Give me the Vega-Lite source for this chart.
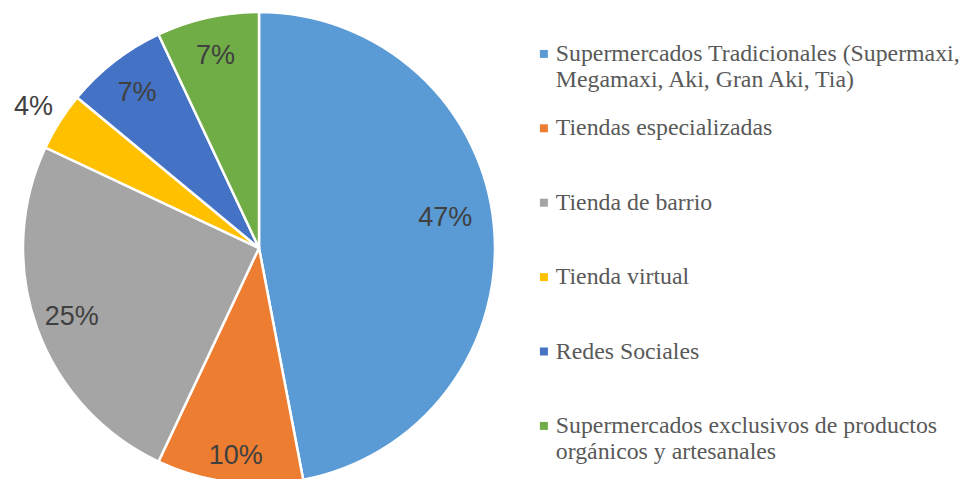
{
  "$schema": "https://vega.github.io/schema/vega-lite/v6.json",
  "width": 965,
  "height": 479,
  "padding": 0,
  "autosize": "none",
  "background": "white",
  "data": {
    "values": [
      {"idx": 1, "canal": "Supermercados Tradicionales (Supermaxi, Megamaxi, Aki, Gran Aki, Tia)", "pct": 47, "label": "47%"},
      {"idx": 2, "canal": "Tiendas especializadas", "pct": 10, "label": "10%"},
      {"idx": 3, "canal": "Tienda de barrio", "pct": 25, "label": "25%"},
      {"idx": 4, "canal": "Tienda virtual", "pct": 4, "label": "4%"},
      {"idx": 5, "canal": "Redes Sociales", "pct": 7, "label": "7%"},
      {"idx": 6, "canal": "Supermercados exclusivos de productos orgánicos y artesanales", "pct": 7, "label": "7%"}
    ]
  },
  "encoding": {
    "theta": {"field": "pct", "type": "quantitative", "stack": true},
    "order": {"field": "idx", "type": "quantitative"}
  },
  "layer": [
    {
      "mark": {"type": "arc", "x": 259, "y": 248, "outerRadius": 236, "stroke": "white", "strokeWidth": 2.5},
      "encoding": {
        "color": {
          "field": "canal",
          "type": "nominal",
          "scale": {
            "domain": [
              "Supermercados Tradicionales (Supermaxi, Megamaxi, Aki, Gran Aki, Tia)",
              "Tiendas especializadas",
              "Tienda de barrio",
              "Tienda virtual",
              "Redes Sociales",
              "Supermercados exclusivos de productos orgánicos y artesanales"
            ],
            "range": ["#5B9BD5", "#ED7D31", "#A5A5A5", "#FFC000", "#4472C4", "#70AD47"]
          },
          "legend": {
            "orient": "none",
            "legendX": 532,
            "legendY": 42,
            "padding": 0,
            "title": null,
            "direction": "vertical",
            "columns": 1,
            "gridAlign": "all",
            "rowPadding": 23.4,
            "symbolType": "square",
            "symbolSize": 64,
            "symbolStrokeWidth": 0,
            "labelFont": "Times New Roman",
            "labelFontSize": 23.8,
            "labelColor": "#595959",
            "labelLimit": 600,
            "labelOffset": 0,
            "labelExpr": "datum.label == 'Supermercados Tradicionales (Supermaxi, Megamaxi, Aki, Gran Aki, Tia)' ? ['Supermercados Tradicionales (Supermaxi,', 'Megamaxi, Aki, Gran Aki, Tia)'] : datum.label == 'Supermercados exclusivos de productos orgánicos y artesanales' ? ['Supermercados exclusivos de productos', 'orgánicos y artesanales'] : datum.label"
          }
        }
      }
    },
    {
      "mark": {"type": "text", "x": 259, "y": 250, "radius": 199, "font": "Liberation Sans", "fontSize": 27, "fill": "#404040"},
      "encoding": {
        "text": {"field": "label"},
        "opacity": {"condition": {"test": "datum.idx != 1 && datum.idx != 2 && datum.idx != 4", "value": 1}, "value": 0}
      }
    },
    {
      "mark": {"type": "text", "x": 257, "y": 236, "radius": 189, "font": "Liberation Sans", "fontSize": 27, "fill": "#404040"},
      "encoding": {
        "text": {"field": "label"},
        "opacity": {"condition": {"test": "datum.idx == 1", "value": 1}, "value": 0}
      }
    },
    {
      "mark": {"type": "text", "x": 262, "y": 248, "radius": 210, "font": "Liberation Sans", "fontSize": 27, "fill": "#404040"},
      "encoding": {
        "text": {"field": "label"},
        "opacity": {"condition": {"test": "datum.idx == 2", "value": 1}, "value": 0}
      }
    },
    {
      "mark": {"type": "text", "x": 259, "y": 250, "radius": 267, "font": "Liberation Sans", "fontSize": 27, "fill": "#404040"},
      "encoding": {
        "text": {"field": "label"},
        "opacity": {"condition": {"test": "datum.idx == 4", "value": 1}, "value": 0}
      }
    }
  ]
}
